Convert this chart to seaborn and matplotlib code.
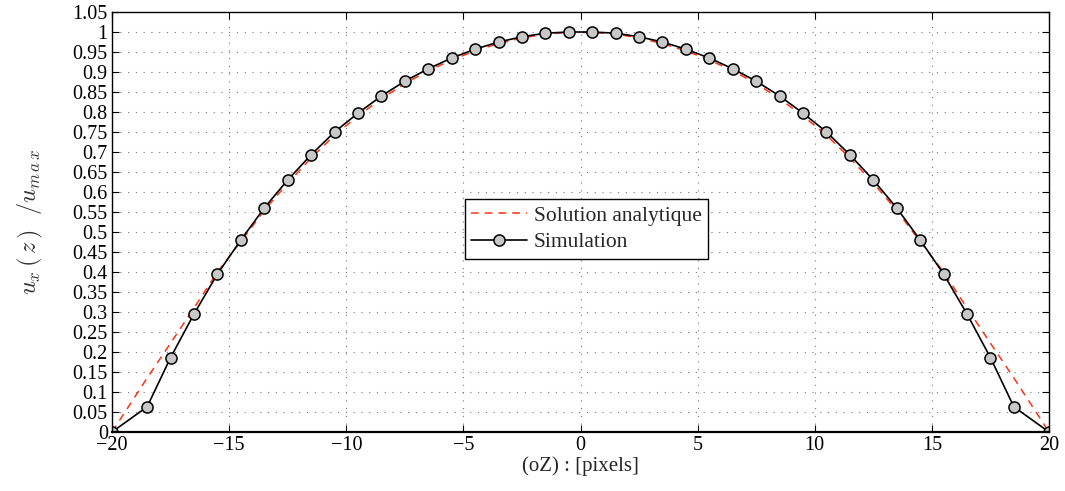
import numpy as np
import pandas as pd
import matplotlib
matplotlib.use("Agg")
import matplotlib.pyplot as plt
import seaborn as sns

# Data
x_pos = [-20, -18.5, -17.5, -16.5, -15.5, -14.5, -13.5, -12.5, -11.5, -10.5,
         -9.5, -8.5, -7.5, -6.5, -5.5, -4.5, -3.5, -2.5, -1.5, -0.5,
         0.5, 1.5, 2.5, 3.5, 4.5, 5.5, 6.5, 7.5, 8.5, 9.5,
         10.5, 11.5, 12.5, 13.5, 14.5, 15.5, 16.5, 17.5, 18.5, 20]
sim_left = [0.0, 0.063, 0.186, 0.295, 0.395, 0.48, 0.56, 0.63, 0.693, 0.75,
            0.797, 0.84, 0.877, 0.908, 0.935, 0.957, 0.975, 0.988, 0.997, 1.0]
ana_left = [0.0, 0.135, 0.222, 0.31, 0.40, 0.476, 0.554, 0.622, 0.685, 0.742,
            0.790, 0.833, 0.871, 0.903, 0.930, 0.953, 0.971, 0.985, 0.995, 0.999]
simulation = sim_left + sim_left[::-1]
analytique = ana_left + ana_left[::-1]

x_ticks = [-20, -15, -10, -5, 0, 5, 10, 15, 20]
y_ticks = [0, 0.05, 0.1, 0.15, 0.2, 0.25, 0.3, 0.35, 0.4, 0.45, 0.5, 0.55,
           0.6, 0.65, 0.7, 0.75, 0.8, 0.85, 0.9, 0.95, 1, 1.05]
y_tick_labels = ["0", "0.05", "0.1", "0.15", "0.2", "0.25", "0.3", "0.35", "0.4",
                 "0.45", "0.5", "0.55", "0.6", "0.65", "0.7", "0.75", "0.8",
                 "0.85", "0.9", "0.95", "1", "1.05"]

sns.set_style("ticks")
plt.rcParams['font.family'] = ['Liberation Serif', 'DejaVu Serif']
plt.rcParams['mathtext.fontset'] = 'cm'

df_ana = pd.DataFrame({"x": x_pos, "y": analytique})
df_sim = pd.DataFrame({"x": x_pos, "y": simulation})

fig = plt.figure(figsize=(10.65, 4.91), dpi=100)
ax = fig.add_axes([112/1065, 1-432/491, (1049-112)/1065, (432-12)/491])

sns.lineplot(data=df_ana, x="x", y="y", ax=ax, sort=False, estimator=None,
             color="#ff3311", linestyle=(0, (5, 4)), linewidth=1.1,
             label="Solution analytique")
sns.lineplot(data=df_sim, x="x", y="y", ax=ax, sort=False, estimator=None,
             color="black", linewidth=1.2, marker="o", markersize=8,
             markerfacecolor="#c8c8c8", markeredgecolor="black",
             markeredgewidth=1.1, label="Simulation")

ax.set_xlim(-20, 20)
ax.set_ylim(0, 1.05)
ax.set_xticks(x_ticks)
ax.set_yticks(y_ticks)
ax.set_yticklabels(y_tick_labels)
ax.tick_params(direction="in", length=5, width=0.8, top=True, right=True,
               labelsize=14.5, pad=3, colors="black")
ax.grid(True, linestyle=(0, (1, 6)), color="#777777", linewidth=0.8)
for s in ax.spines.values():
    s.set_linewidth(1.0)
    s.set_color("black")
ax.spines["bottom"].set_linewidth(1.6)

ax.set_xlabel("(oZ) : [pixels]", fontsize=15, labelpad=1)
ax.set_ylabel(r"$u_x\,(\,z\,)\ \ /u_{m\,a\,x}$", fontsize=17.5, color="#333333",
              labelpad=20)

leg = ax.legend(loc="upper left", bbox_to_anchor=((465-112)/937, (432-199)/420),
                frameon=True, fancybox=False, fontsize=15.5, borderpad=0.3,
                handlelength=2.6, handletextpad=0.3, labelspacing=0.3,
                borderaxespad=0)
leg.get_frame().set_edgecolor("black")
leg.get_frame().set_linewidth(1.0)
leg.get_frame().set_alpha(1)

fig.savefig("out.png", dpi=100)
